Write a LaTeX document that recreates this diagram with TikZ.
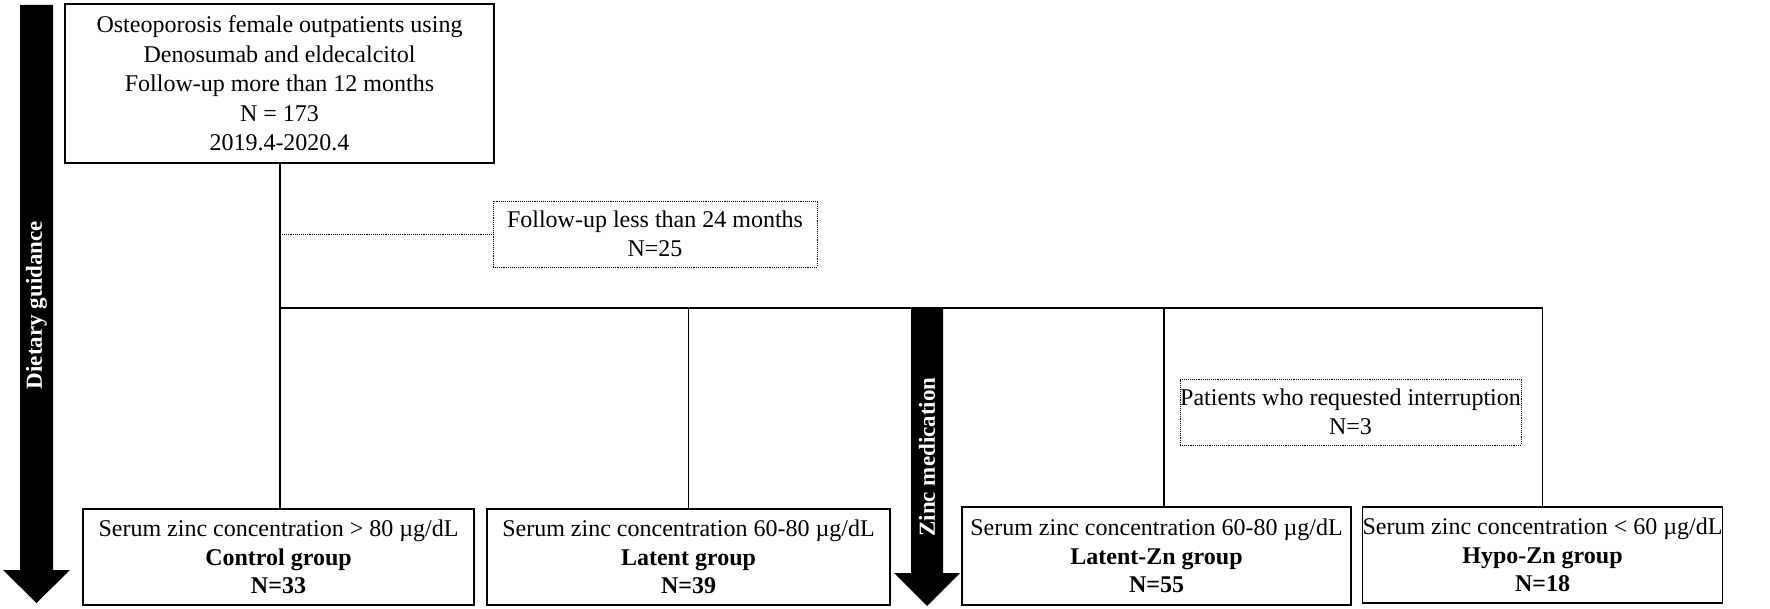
\documentclass[tikz,border=0pt]{standalone}
\usepackage{fontspec}
\setmainfont{Liberation Serif}
\begin{document}
\begin{tikzpicture}[x=1pt,y=-1pt,
  box/.style={draw,line width=1.6pt,align=center,inner sep=0pt,outer sep=0pt,
    font=\fontsize{24}{28.5}\selectfont},
  topbox/.style={box,font=\fontsize{24}{29.5}\selectfont},
  dotbox/.style={draw,densely dotted,line width=0.9pt,align=center,inner sep=0pt,outer sep=0pt,
    font=\fontsize{24}{28.5}\selectfont},
  link/.style={line width=1.3pt},
  bigarrow/.style={fill=black,draw=none},
  arrowlabel/.style={text=white,font=\bfseries\fontsize{23}{27}\selectfont,rotate=90,inner sep=0pt}
]
\useasboundingbox (0,0) rectangle (1770,609);

% nodes
\node[topbox,minimum width=429pt,minimum height=159pt] (top) at (279.5,83.5)
  {Osteoporosis female outpatients using\\Denosumab and eldecalcitol\\Follow-up more than 12 months\\N = 173\\2019.4-2020.4};
\node[dotbox,minimum width=324pt,minimum height=66pt] (fu) at (655,234)
  {Follow-up less than 24 months\\N=25};
\node[dotbox,minimum width=341pt,minimum height=66pt] (pat) at (1350.5,412)
  {Patients who requested interruption\\N=3};
\node[box,minimum width=391pt,minimum height=96pt] (ctrl) at (278.5,557)
  {Serum zinc concentration > 80 µg/dL\\\textbf{Control group}\\\textbf{N=33}};
\node[box,minimum width=403pt,minimum height=96pt] (lat) at (688.5,557)
  {Serum zinc concentration 60-80 µg/dL\\\textbf{Latent group}\\\textbf{N=39}};
\node[box,minimum width=389pt,minimum height=98pt] (lzn) at (1156.5,556)
  {Serum zinc concentration 60-80 µg/dL\\\textbf{Latent-Zn group}\\\textbf{N=55}};
\node[box,minimum width=357pt,minimum height=96pt] (hzn) at (1542.5,555)
  {Serum zinc concentration < 60 µg/dL\\\textbf{Hypo-Zn group}\\\textbf{N=18}};

% junctions
\coordinate (jfu) at (280,234);
\coordinate (jbar) at (280,308);
\coordinate (jlat) at (688.5,308);
\coordinate (jlzn) at (1164,308);
\coordinate (jhzn) at (1542.5,308);
\coordinate (lzntop) at (1164,507);

% connectors
\draw[link] (top.south -| jbar) -- (jbar) -- (ctrl.north -| jbar);
\draw[link] (jbar) -- (jhzn);
\draw[link] (jlat) -- (lat.north);
\draw[link] (jlzn) -- (lzntop);
\draw[link] (jhzn) -- (hzn.north);
\draw[densely dotted,line width=0.9pt] (jfu) -- (fu.west);

% big arrows
\fill[bigarrow] (20,5) -- (53,5) -- (53,570) -- (70,570) -- (36.5,603) -- (3,570) -- (20,570) -- cycle;
\node[arrowlabel] (diet) at (36.5,305) {Dietary guidance};
\fill[bigarrow] (911,308) -- (943,308) -- (943,573) -- (960,573) -- (927,606) -- (894,573) -- (911,573) -- cycle;
\node[arrowlabel] (zinc) at (927,457) {Zinc medication};
\end{tikzpicture}
\end{document}
